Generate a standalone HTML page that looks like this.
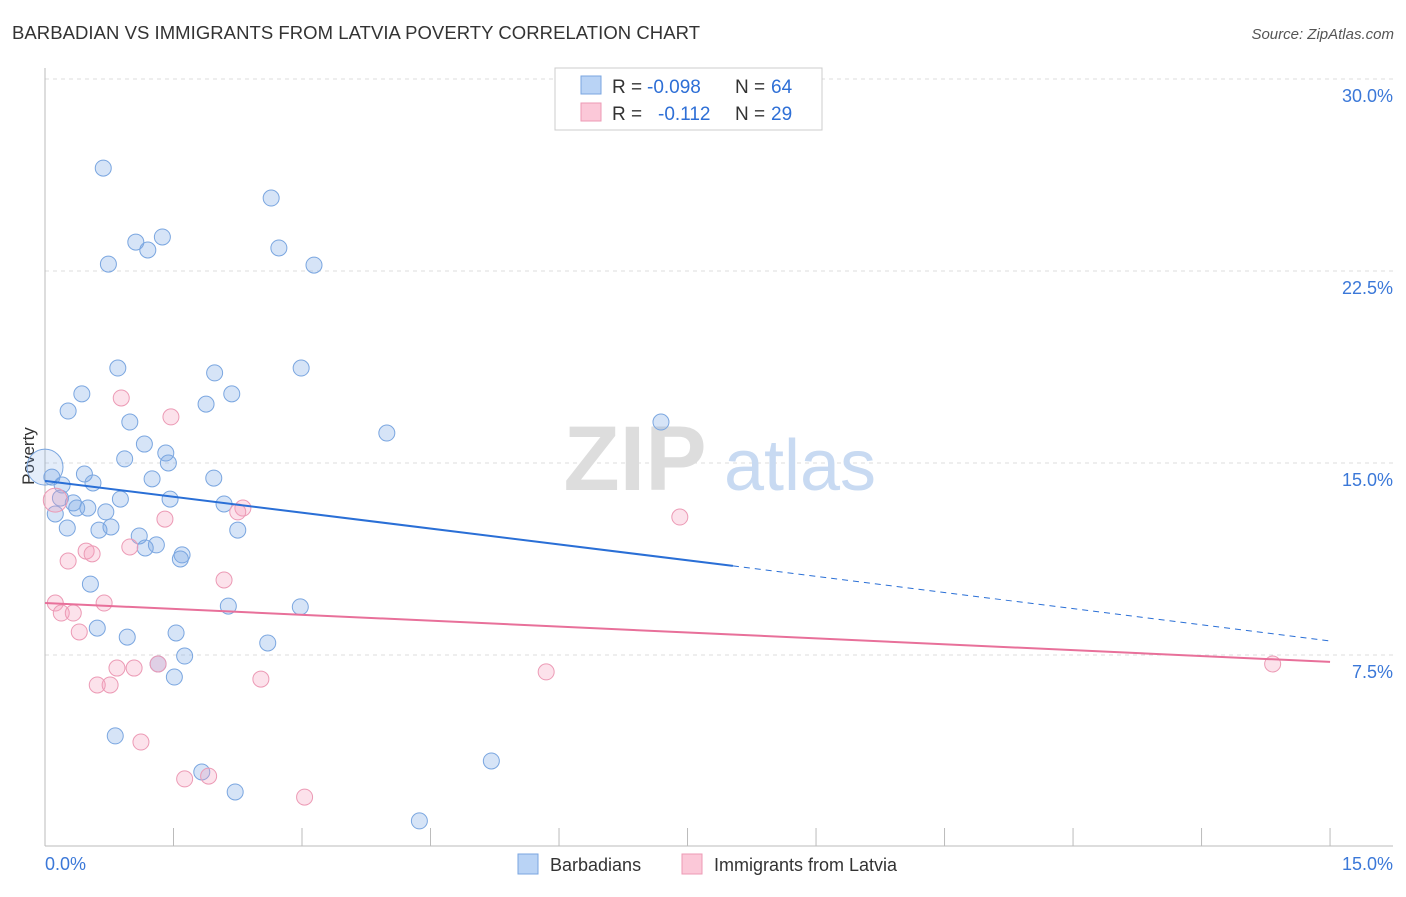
<!DOCTYPE html>
<html><head><meta charset="utf-8"><style>
body{margin:0;background:#fff;font-family:"Liberation Sans",sans-serif}
svg text{font-family:"Liberation Sans",sans-serif}
</style></head><body>
<svg width="1406" height="892">
<text x="12" y="39" font-size="18.5" fill="#333" textLength="688">BARBADIAN VS IMMIGRANTS FROM LATVIA POVERTY CORRELATION CHART</text>
<text x="1394" y="39" font-size="15" fill="#555" font-style="italic" text-anchor="end">Source: ZipAtlas.com</text>
<g id="grid"></g>
<g>
<text x="635" y="490" font-size="92" fill="#ddd" font-family="Liberation Serif" text-anchor="middle" font-weight="bold">ZIP</text>
<text x="800" y="490" font-size="72" fill="#c8daf2" text-anchor="middle">atlas</text>
</g>
<text x="34" y="456" font-size="17" fill="#333" transform="rotate(-90 34 456)" text-anchor="middle">Poverty</text>
<g id="marks"></g>
<g>
<rect x="555" y="68" width="267" height="62" fill="#fff" stroke="#ccc"/>
<rect x="581" y="76" width="20" height="18" fill="#b9d3f5" stroke="#7aa6e0"/>
<rect x="581" y="103" width="20" height="18" fill="#fbc8d8" stroke="#ec9ab5"/>
<text x="612" y="93" font-size="19" fill="#333">R =</text>
<text x="647" y="93" font-size="19" fill="#2e6fd6">-0.098</text>
<text x="735" y="93" font-size="19" fill="#333">N =</text>
<text x="771" y="93" font-size="19" fill="#2e6fd6">64</text>
<text x="612" y="120" font-size="19" fill="#333">R =</text>
<text x="658" y="120" font-size="19" fill="#2e6fd6">-0.112</text>
<text x="735" y="120" font-size="19" fill="#333">N =</text>
<text x="771" y="120" font-size="19" fill="#2e6fd6">29</text>
</g>
<g>
<rect x="518" y="854" width="20" height="20" fill="#b9d3f5" stroke="#7aa6e0"/>
<text x="550" y="871" font-size="18" fill="#333">Barbadians</text>
<rect x="682" y="854" width="20" height="20" fill="#fbc8d8" stroke="#ec9ab5"/>
<text x="714" y="871" font-size="18" fill="#333">Immigrants from Latvia</text>
</g>
</svg>
<script>
const xTicks=[0,1.5,3,4.5,6,7.5,9,10.5,12,13.5,15];
const yTicks=[7.5,15,22.5,30];
const yTickLabels=["7.5%","15.0%","22.5%","30.0%"];
const blueX=[0.68,2.64,1.06,1.37,1.20,2.73,0.74,3.14,0.85,1.98,2.99,0.43,2.18,0.27,1.88,0.99,3.99,7.19,1.16,1.41,0.93,1.44,1.25,1.97,0.46,0.08,0.56,0.20,0.18,0.33,0.50,0.37,0.88,1.46,2.09,0.71,0.12,0.26,0.63,0.77,2.25,1.10,1.30,1.17,1.60,1.58,0.53,2.14,2.98,0.61,0.96,1.53,2.60,1.63,1.32,1.51,0.82,5.21,1.83,2.22,4.37,0.0];
const blueY=[26.52,25.35,23.63,23.83,23.32,23.40,22.77,22.73,18.71,18.52,18.71,17.70,17.70,17.03,17.30,16.60,16.17,16.60,15.74,15.39,15.16,15.00,14.38,14.41,14.57,14.45,14.22,14.14,13.63,13.44,13.24,13.24,13.59,13.59,13.40,13.09,13.01,12.46,12.38,12.50,12.38,12.15,11.80,11.68,11.41,11.25,10.27,9.41,9.38,8.55,8.20,8.36,7.97,7.46,7.15,6.64,4.34,3.36,2.93,2.15,1.02,14.84];
const pinkX=[0.89,1.47,2.31,2.25,1.40,7.41,0.99,0.48,0.55,0.27,2.09,0.12,0.69,0.19,0.33,0.40,0.84,1.04,1.32,5.85,2.52,0.61,0.76,1.12,1.63,1.91,3.03,14.33,0.12];
const pinkY=[17.54,16.80,13.24,13.09,12.81,12.89,11.72,11.56,11.45,11.17,10.43,9.53,9.53,9.14,9.14,8.40,6.99,6.99,7.15,6.84,6.56,6.33,6.33,4.10,2.66,2.77,1.95,7.15,13.55];
const blueTrend=[14.30,10.98,8.05], blueTrendX=[0,8.03,15];
const pinkTrend=[9.53,7.23], pinkTrendX=[0,15];
const X=v=>45+v*85.67, Y=v=>847-v*25.6;
const NS="http://www.w3.org/2000/svg";
function mk(t,a,p){const e=document.createElementNS(NS,t);for(const k in a)e.setAttribute(k,a[k]);p.appendChild(e);return e;}
const g=document.getElementById('grid'), m=document.getElementById('marks');
yTicks.forEach((t,i)=>{
 const l=mk('line',{x1:45,x2:1393,y1:Y(t),y2:Y(t),stroke:'#ddd','stroke-dasharray':'4,4'},g);
 
 
 const tx=mk('text',{x:1393,y:Y(t)+23,'font-size':18,fill:'#3b78d8','text-anchor':'end'},g);
 tx.textContent=yTickLabels[i];
 
 
});
const ax=mk('line',{x1:45,x2:45,y1:68,y2:846,stroke:'#bbb'},g);


const bx=mk('line',{x1:45,x2:1393,y1:846,y2:846,stroke:'#bbb'},g);


xTicks.forEach(t=>{
 const l=mk('line',{x1:X(t),x2:X(t),y1:828,y2:846,stroke:'#bbb'},g);
 
 
});
[[0,'0.0%','start',45],[15,'15.0%','end',1393]].forEach(a=>{
 const tx=mk('text',{x:a[3],y:870,'font-size':18,fill:'#3b78d8','text-anchor':a[2]},g);
 tx.textContent=a[1];
 
 
});
blueX.forEach((x,i)=>{
 const big=i==blueX.length-1;
 const c=mk('circle',{cx:X(x),cy:Y(blueY[i]),r:big?18:8,fill:big?'rgba(120,165,230,0.2)':'rgba(120,165,230,0.3)',stroke:'#7aa6e0','stroke-width':1},m);
 
 
});
pinkX.forEach((x,i)=>{
 const c=mk('circle',{cx:X(x),cy:Y(pinkY[i]),r:i==pinkX.length-1?12:8,fill:'rgba(245,160,190,0.3)',stroke:'#ec9ab5','stroke-width':1},m);
 
 
});
const b1=mk('line',{x1:X(blueTrendX[0]),y1:Y(blueTrend[0]),x2:X(blueTrendX[1]),y2:Y(blueTrend[1]),stroke:'#2a6fd6','stroke-width':2},m);


const b2=mk('line',{x1:X(blueTrendX[1]),y1:Y(blueTrend[1]),x2:X(blueTrendX[2]),y2:Y(blueTrend[2]),stroke:'#2a6fd6','stroke-width':1,'stroke-dasharray':'6,5'},m);


const p1=mk('line',{x1:X(pinkTrendX[0]),y1:Y(pinkTrend[0]),x2:X(pinkTrendX[1]),y2:Y(pinkTrend[1]),stroke:'#e8709a','stroke-width':2},m);


</script>
</body></html>
